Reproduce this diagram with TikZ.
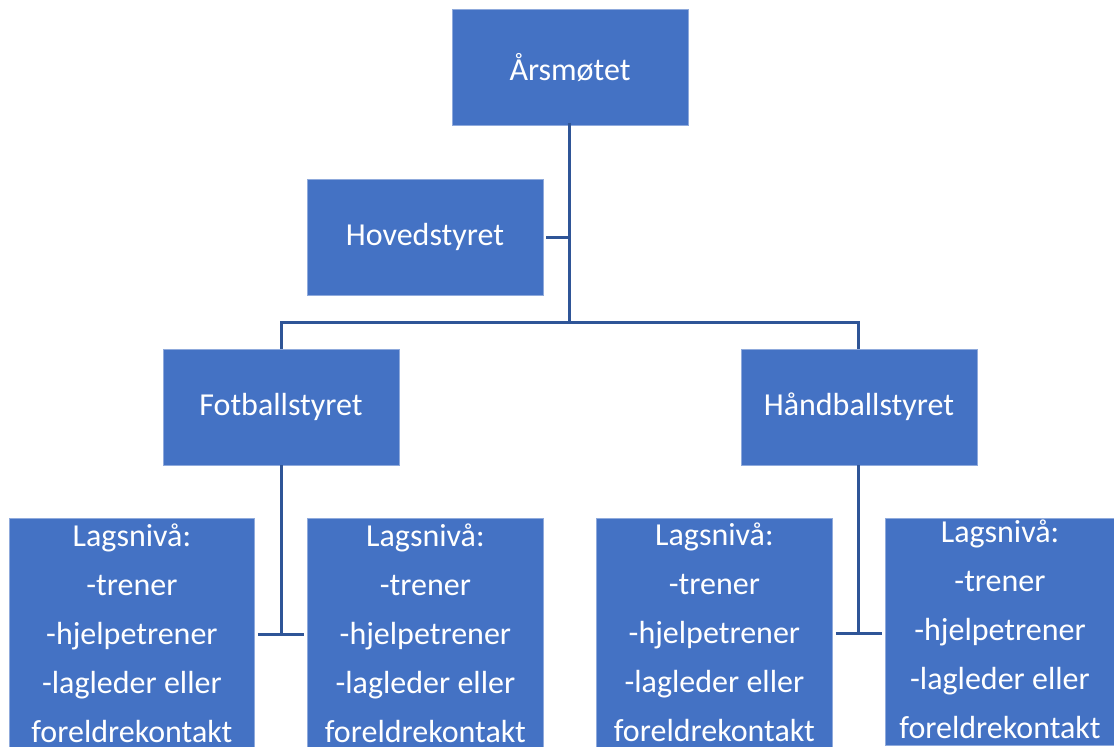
\documentclass[tikz,border=0pt]{standalone}
\usepackage{fontspec}
\setmainfont{Carlito}
\definecolor{boxfill}{RGB}{68,114,196}
\definecolor{boxedge}{RGB}{143,170,220}
\definecolor{conncol}{RGB}{47,85,151}
\begin{document}
\begin{tikzpicture}[x=1pt,y=-1pt,
  box/.style={rectangle, fill=boxfill, draw=boxedge, line width=0.8pt,
    minimum width=236pt, minimum height=116pt, inner sep=0pt,
    text=white, font=\fontsize{32}{38}\selectfont},
  lbl/.style={text=white, align=center, inner sep=0pt,
    font=\fontsize{32}{49}\selectfont},
  conn/.style={draw=conncol, line width=3pt}]
\useasboundingbox (0,0) rectangle (1114,747);
\coordinate (j1) at (569,322);
\coordinate (j2) at (281,634);
\coordinate (j3) at (858,633);
\node[box] (aars) at (570,67.5) {Årsmøtet};
\node[box] (hoved) at (425,237) {Hovedstyret};
\node[box] (fot) at (281,407) {Fotballstyret};
\node[box] (hand) at (859,407) {Håndballstyret};
\node[box, minimum width=245pt, minimum height=240pt, anchor=north west] (b1) at (9,518) {};
\node[box, minimum width=236pt, minimum height=240pt, anchor=north west] (b2) at (307,518) {};
\node[box, minimum width=236pt, minimum height=240pt, anchor=north west] (b3) at (596,518) {};
\node[box, minimum width=231pt, minimum height=227pt, anchor=north west] (b4) at (885,518) {};
\node[lbl, anchor=base] (t1) at (b1.north |- 0,742) {Lagsnivå:\\-trener\\-hjelpetrener\\-lagleder eller\\foreldrekontakt};
\node[lbl, anchor=base] (t2) at (b2.north |- 0,742) {Lagsnivå:\\-trener\\-hjelpetrener\\-lagleder eller\\foreldrekontakt};
\node[lbl, anchor=base] (t3) at (b3.north |- 0,741) {Lagsnivå:\\-trener\\-hjelpetrener\\-lagleder eller\\foreldrekontakt};
\node[lbl, anchor=base] (t4) at (1000,738) {Lagsnivå:\\-trener\\-hjelpetrener\\-lagleder eller\\foreldrekontakt};
\draw[conn] ([yshift=3pt]aars.south -| j1) -- (j1);
\draw[conn] ([xshift=3pt]hoved.east) -- (hoved.east -| j1);
\draw[conn] (fot.north -| j2) |- (j1) -| (hand.north -| j3);
\draw[conn] (fot.south -| j2) -- (j2);
\draw[conn] ([xshift=3pt]b1.east |- j2) -- ([xshift=-3pt]b2.west |- j2);
\draw[conn] (hand.south -| j3) -- (j3);
\draw[conn] ([xshift=3pt]b3.east |- j3) -- ([xshift=-3pt]b4.west |- j3);
\end{tikzpicture}
\end{document}
